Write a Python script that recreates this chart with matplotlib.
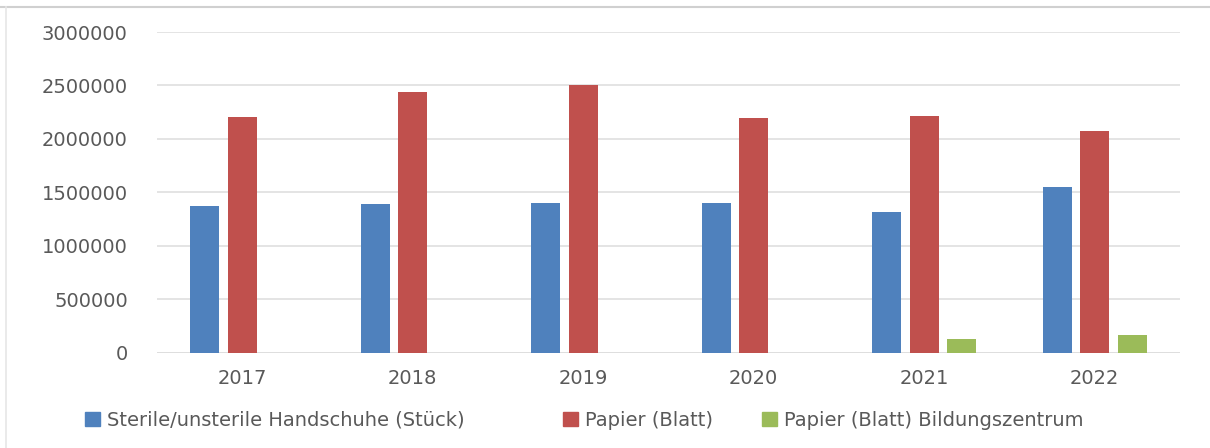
import numpy as np
import matplotlib.pyplot as plt
from matplotlib.lines import Line2D
from matplotlib.patches import Patch

# Jahreswerte
years = ['2017', '2018', '2019', '2020', '2021', '2022']
handschuhe = [1373000, 1390000, 1400000, 1400000, 1315000, 1554000]
papier = [2204000, 2440000, 2505000, 2192000, 2213000, 2070000]
papier_bz = [0, 0, 0, 0, 125000, 163000]

series_names = ['Sterile/unsterile Handschuhe (Stück)', 'Papier (Blatt)',
                'Papier (Blatt) Bildungszentrum']
colors = ['#4F81BD', '#C0504D', '#9BBB59']
yticks = [0, 500000, 1000000, 1500000, 2000000, 2500000, 3000000]

plt.rcParams['font.family'] = ['DejaVu Sans']
text_color = '#595959'
W, H = 1210, 448

fig = plt.figure(figsize=(W / 100, H / 100), dpi=100)
ax = fig.add_axes([157 / W, 1 - 352.7 / H, (1180 - 157) / W, (352.7 - 32) / H])

x = np.arange(len(years))
width = 0.17
step = 0.22
for i, (vals, c) in enumerate(zip([handschuhe, papier, papier_bz], colors)):
    ax.bar(x + (i - 1) * step, vals, width, color=c, zorder=3)

ax.set_xlim(-0.5, len(years) - 0.5)
ax.set_ylim(0, 3000000)
ax.set_yticks(yticks)
ax.set_yticklabels([str(v) for v in yticks])
ax.set_xticks(x)
ax.set_xticklabels(years)
ax.tick_params(axis='both', length=0, colors=text_color, labelsize=14)
ax.tick_params(axis='y', pad=21)
ax.tick_params(axis='x', pad=12)
ax.yaxis.grid(True, color='#DDDDDD', linewidth=1.1, zorder=0)
for s in ax.spines.values():
    s.set_visible(False)
ax.axhline(0, color='#DDDDDD', linewidth=1.1, zorder=1)

# Legende: jeder Eintrag an seiner eigenen Position
legend_x = [85, 563, 762]
for name, c, lx in zip(series_names, colors, legend_x):
    fig.legend(handles=[Patch(color=c, label=name)], loc='center left',
               bbox_to_anchor=(lx / W, 1 - 420 / H), frameon=False, fontsize=14,
               handlelength=0.75, handleheight=0.75, handletextpad=0.4,
               borderpad=0, borderaxespad=0, labelcolor=text_color)

# Rahmen des Diagrammbereichs
fig.add_artist(Line2D([0, 1], [1 - 7 / H, 1 - 7 / H], transform=fig.transFigure,
                      color='#D0D0D0', linewidth=1.5))
fig.add_artist(Line2D([6 / W, 6 / W], [0, 1 - 7 / H], transform=fig.transFigure,
                      color='#E6E6E6', linewidth=1.2))

fig.savefig('out.png', dpi=100, facecolor='white')
